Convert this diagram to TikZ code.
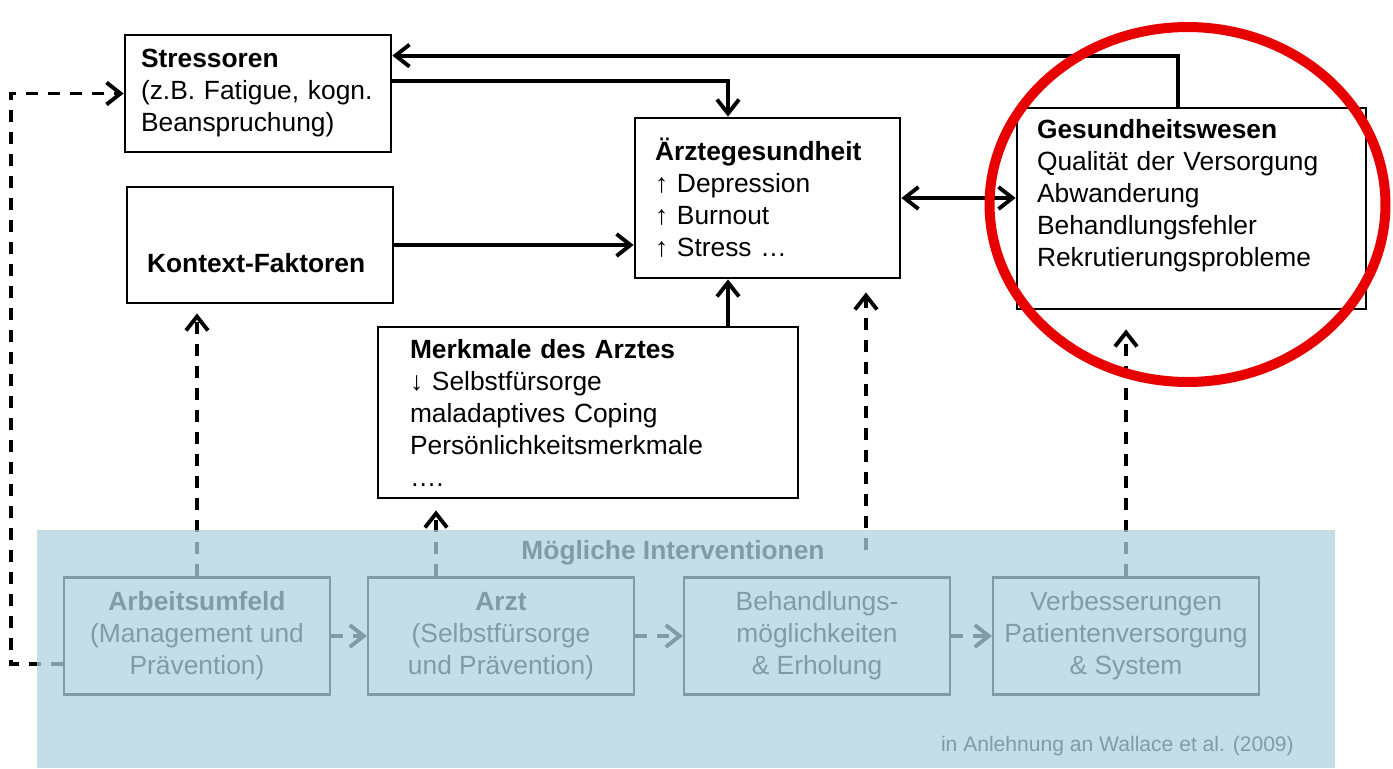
\documentclass[tikz,border=0pt]{standalone}
\usepackage{fontspec}
\setmainfont{Liberation Sans}
\usetikzlibrary{arrows.meta}

\definecolor{bandblue}{RGB}{176,209,223}
\definecolor{ringred}{RGB}{232,0,0}

\begin{document}
\begin{tikzpicture}[x=0.02cm, y=-0.02cm,
    >={Straight Barb[length=0.28cm,width=0.44cm]},
    box/.style={draw, line width=1.6pt, align=left, inner ysep=0pt,
        font=\fontsize{15}{18.2}\selectfont},
    ibox/.style={draw, line width=1.3pt, align=center, minimum width=5.32cm,
        minimum height=2.34cm, font=\fontsize{15}{18.2}\selectfont},
    link/.style={->, line width=2.2pt},
    dlink/.style={->, line width=2.2pt, dash pattern=on 0.24cm off 0.2cm}]
    \useasboundingbox (0,0) rectangle (1393,768);

    % upper model
    \node[box, inner xsep=0.32cm, text width=4.68cm, minimum height=2.34cm] (stress) at (258,93.5)
        {\textbf{Stressoren}\\(z.B. Fatigue, kogn.\\Beanspruchung)};
    \node[box, inner xsep=0.4cm, text width=4.52cm, minimum height=2.32cm] (kontext) at (260,245)
        {\strut\\\textbf{Kontext-Faktoren}};
    \node[box, inner xsep=0.4cm, text width=4.5cm, minimum height=3.2cm] (aerzte) at (767.5,198)
        {\textbf{Ärztegesundheit}\\↑ Depression\\↑ Burnout\\↑ Stress …};
    \node[box, inner xsep=0.4cm, text width=6.18cm, minimum height=4.02cm] (gesund) at (1191.5,208.5)
        {\textbf{Gesundheitswesen}\\Qualität der Versorgung\\Abwanderung\\Behandlungsfehler\\Rekrutierungsprobleme\\[-6pt]\strut};
    \node[box, inner xsep=0.64cm, text width=7.12cm, minimum height=3.42cm] (merkmal) at (588,412.5)
        {\textbf{Merkmale des Arztes}\\↓ Selbstfürsorge\\maladaptives Coping\\Persönlichkeitsmerkmale\\….};

    % interventions
    \foreach \nm/\cx/\txt in {arbeit/197/{\textbf{Arbeitsumfeld}\\(Management und\\Prävention)},
        arzt/501/{\textbf{Arzt}\\(Selbstfürsorge\\und Prävention)},
        behandl/817/{Behandlungs-\\möglichkeiten\\\& Erholung},
        verbess/1126/{Verbesserungen\\Patientenversorgung\\\& System}}
        \node[ibox] (\nm) at (\cx,636) {\txt};
    \node[font=\bfseries\fontsize{15}{18}\selectfont] (interv) at (673,553) {Mögliche Interventionen};
    \node[anchor=east, font=\fontsize{12}{14}\selectfont] (quelle) at (1300,746)
        {in Anlehnung an Wallace et al. (2009)};

    % solid connectors
    \draw[link] ([xshift=-0.27cm]gesund.north) |- ([yshift=-0.44cm]stress.north east);
    \draw[link] ([yshift=-0.94cm]stress.north east) -| ([xshift=-0.79cm]aerzte.north);
    \draw[link] (kontext.east) -- (kontext.east -| aerzte.west);
    \draw[link, <->] (aerzte.east) -- (aerzte.east -| gesund.west);
    \coordinate (ain) at ([xshift=-0.79cm]aerzte.south);
    \draw[link] (ain |- merkmal.north) -- (ain);

    % dashed connectors
    \draw[dlink, shorten >=0.18cm] (arbeit.north) -- (arbeit.north |- kontext.south);
    \coordinate (arztup) at ([xshift=-1.3cm]arzt.north);
    \draw[dlink, shorten >=0.22cm] (arztup) -- (arztup |- merkmal.south);
    \coordinate (behup) at ([shift={(0.98cm,0.52cm)}]behandl.north);
    \draw[dlink, shorten >=0.26cm] (behup) -- (behup |- aerzte.south);
    \draw[dlink, shorten >=0.38cm] (verbess.north) -- (verbess.north |- gesund.south);
    \foreach \a/\b in {arbeit/arzt, arzt/behandl, behandl/verbess}
        \draw[dlink] (\a) -- (\b);
    \draw[dlink] ([yshift=-0.56cm]arbeit.west) -- ++(-52,0) |- (stress.west);

    % blue band over the interventions
    \fill[bandblue, fill opacity=0.74] (37,530) rectangle (1335,768);

    % red ring
    \draw[ringred, line width=0.2cm] (1187.5,204.5) ellipse [x radius=3.96cm, y radius=3.55cm];
\end{tikzpicture}
\end{document}
